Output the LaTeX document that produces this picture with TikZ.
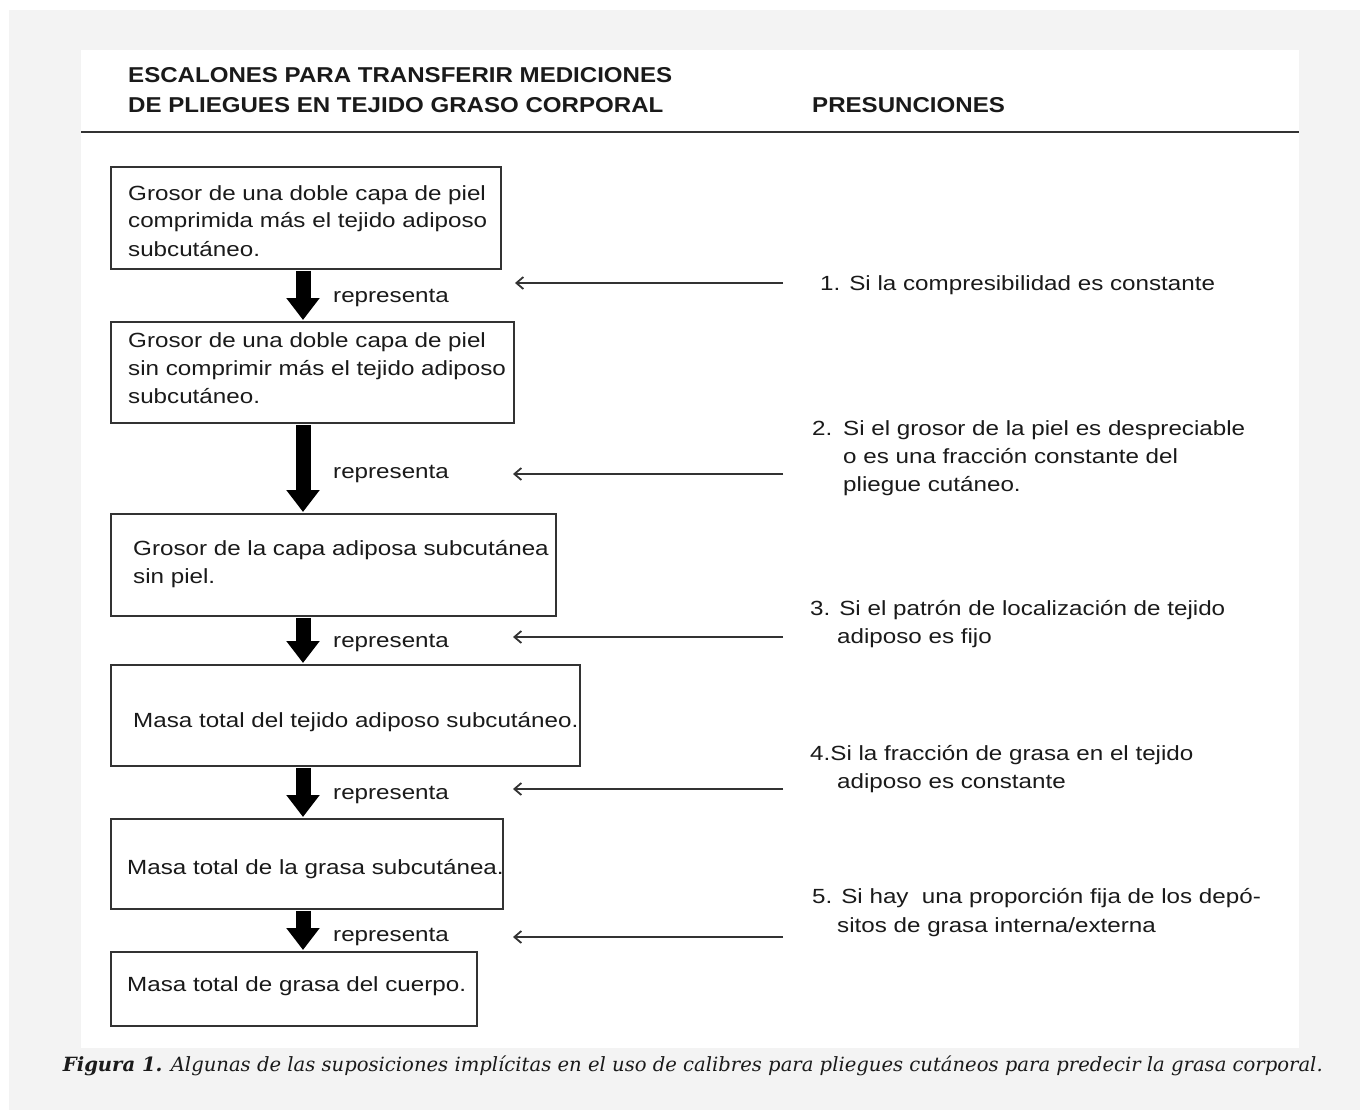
\documentclass[tikz,border=0pt]{standalone}
\usepackage{fontspec}
\setmainfont{Liberation Sans}[FakeStretch=1.18]
\newfontfamily\hdfont{Liberation Sans}[FakeStretch=1.12]
\newfontfamily\capfont{DejaVu Serif}
\usetikzlibrary{arrows.meta}
\definecolor{bggray}{HTML}{F3F3F3}
\definecolor{ink}{HTML}{1A1A1A}
\definecolor{rulec}{HTML}{333333}
\begin{document}
\begin{tikzpicture}[x=1pt,y=-1pt,
  txt/.style={anchor=base west, inner sep=0pt, text=ink, font=\fontsize{20.5}{28}\selectfont},
  hd/.style={anchor=base west, inner sep=0pt, text=ink, font=\hdfont\bfseries\fontsize{21.5}{30}\selectfont},
  stepbox/.style={draw=rulec, line width=1.8pt, anchor=north west, inner sep=0pt},
  bigarrow/.style={line width=15pt, -{Triangle[length=22pt,width=32pt]}, draw=black, shorten >=1pt, shorten <=1pt},
  thinarrow/.style={line width=1.8pt, draw=rulec, -{Straight Barb[length=7pt,width=12pt]}},
  captxt/.style={anchor=base east, inner sep=0pt, text=ink, font=\capfont\itshape\fontsize{19.6}{24}\selectfont}
]
\useasboundingbox (0,0) rectangle (1360,1110);
\fill[white] (-5,-5) rectangle (1365,1115);
\fill[bggray] (9,10) rectangle (1365,1115);
\fill[white] (81,50) rectangle (1299,1048);
\draw[rulec, line width=2.5pt] (81,132) -- (1299,132);

% headers
\node[hd] (h1) at (128,83) {ESCALONES PARA TRANSFERIR MEDICIONES};
\node[hd] (h2) at (128,113) {DE PLIEGUES EN TEJIDO GRASO CORPORAL};
\node[hd] (h3) at (812,113) {PRESUNCIONES};

% boxes
\node[stepbox, minimum width=390pt, minimum height=102pt] (b1) at (110,166) {};
\node[stepbox, minimum width=403pt, minimum height=101pt] (b2) at (110,321) {};
\node[stepbox, minimum width=445pt, minimum height=102pt] (b3) at (110,513) {};
\node[stepbox, minimum width=469pt, minimum height=101pt] (b4) at (110,664) {};
\node[stepbox, minimum width=392pt, minimum height=90pt] (b5) at (110,818) {};
\node[stepbox, minimum width=366pt, minimum height=74pt] (b6) at (110,951) {};

% box texts
\node[txt] (b1a) at (128,201) {Grosor de una doble capa de piel};
\node[txt] (b1b) at (128,228) {comprimida más el tejido adiposo};
\node[txt] (b1c) at (128,256) {subcutáneo.};
\node[txt] (b2a) at (128,347) {Grosor de una doble capa de piel};
\node[txt] (b2b) at (128,375) {sin comprimir más el tejido adiposo};
\node[txt] (b2c) at (128,403) {subcutáneo.};
\node[txt] (b3a) at (133,555) {Grosor de la capa adiposa subcutánea};
\node[txt] (b3b) at (133,583) {sin piel.};
\node[txt] (b4a) at (133,727) {Masa total del tejido adiposo subcutáneo.};
\node[txt] (b5a) at (127,874) {Masa total de la grasa subcutánea.};
\node[txt] (b6a) at (127,991) {Masa total de grasa del cuerpo.};

% big arrows
\coordinate (ax) at (303,0);
\draw[bigarrow] (b1.south -| ax) -- (b2.north -| ax);
\draw[bigarrow] (b2.south -| ax) -- (b3.north -| ax);
\draw[bigarrow] (b3.south -| ax) -- (b4.north -| ax);
\draw[bigarrow] (b4.south -| ax) -- (b5.north -| ax);
\draw[bigarrow] (b5.south -| ax) -- (b6.north -| ax);

% representa labels
\node[txt] (rp1) at (333,302) {representa};
\node[txt] (rp2) at (333,478) {representa};
\node[txt] (rp3) at (333,647) {representa};
\node[txt] (rp4) at (333,799) {representa};
\node[txt] (rp5) at (333,941) {representa};

% thin arrows
\coordinate (ra1) at (783,283); \coordinate (la1) at (515,283);
\coordinate (ra2) at (783,474); \coordinate (la2) at (513,474);
\coordinate (ra3) at (783,637); \coordinate (la3) at (513,637);
\coordinate (ra4) at (783,789); \coordinate (la4) at (513,789);
\coordinate (ra5) at (783,937); \coordinate (la5) at (513,937);
\draw[thinarrow] (ra1) -- (la1);
\draw[thinarrow] (ra2) -- (la2);
\draw[thinarrow] (ra3) -- (la3);
\draw[thinarrow] (ra4) -- (la4);
\draw[thinarrow] (ra5) -- (la5);

% assumptions
\node[txt] (p1) at (820,290) {1. Si la compresibilidad es constante};
\node[txt] (p2n) at (812,435) {2.};
\node[txt] (p2a) at (843,435) {Si el grosor de la piel es despreciable};
\node[txt] (p2b) at (843,463) {o es una fracción constante del};
\node[txt] (p2c) at (843,491) {pliegue cutáneo.};
\node[txt] (p3a) at (810,615) {3. Si el patrón de localización de tejido};
\node[txt] (p3b) at (837,643) {adiposo es fijo};
\node[txt] (p4a) at (810,760) {4.Si la fracción de grasa en el tejido};
\node[txt] (p4b) at (837,788) {adiposo es constante};
\node[txt] (p5a) at (812,903) {5. Si hay\ \ una proporción fija de los depó-};
\node[txt] (p5b) at (837,932) {sitos de grasa interna/externa};

% caption
\node[captxt] (cap) at (1323,1071) {{\bfseries Figura 1.} Algunas de las suposiciones implícitas en el uso de calibres para pliegues cutáneos para predecir la grasa corporal.};
\end{tikzpicture}
\end{document}
